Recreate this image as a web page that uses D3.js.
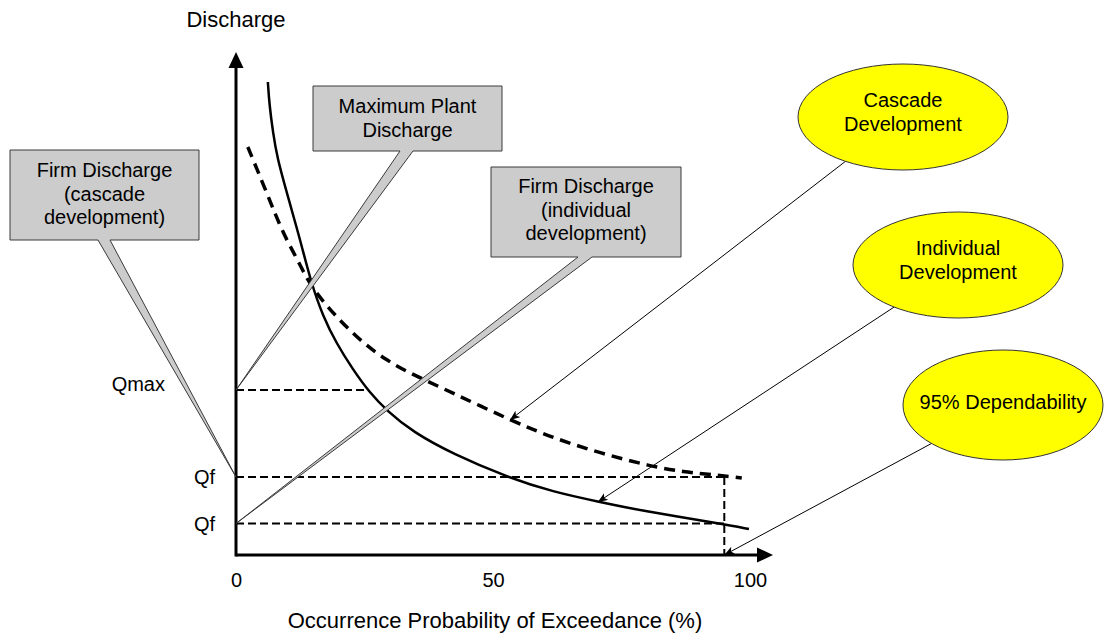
<!DOCTYPE html>
<html><head><meta charset="utf-8">
<script src="https://cdn.jsdelivr.net/npm/d3@7"></script>
<style>
body{margin:0;background:#fff}
svg{display:block;font-family:"Liberation Sans",Arial,Helvetica,sans-serif}
</style>
</head><body>
<svg id="chart" width="1115" height="633"></svg>
<script>
// ---------- data ----------
const xTicks = [0, 50, 100];
const xTitle = "Occurrence Probability of Exceedance (%)";
const yTitle = "Discharge";

// Individual development (solid) flow-duration curve
const individualX = [6.2, 6.5, 7.2, 8.0, 9.9, 12.5, 14.6, 16.9, 19.5, 22.8, 25.9, 29.4, 34.4, 42.2, 52.7, 61.7, 70.8, 78.6, 94.6, 99.8];
const individualY = [94.6, 90.0, 84.5, 79.5, 72.4, 63.0, 54.5, 47.8, 42.4, 37.0, 32.6, 28.8, 24.6, 20.2, 15.6, 12.6, 10.6, 8.9, 6.2, 5.2];

// Cascade development (dashed) flow-duration curve
const cascadeX = [2.3, 6.0, 9.1, 11.7, 13.6, 15.6, 19.5, 24.7, 29.2, 33.7, 42.2, 53.3, 61.7, 70.8, 80.5, 87.0, 93.6, 98.4];
const cascadeY = [81.6, 72.4, 64.4, 59.6, 55.6, 52.4, 47.6, 42.4, 39.0, 36.4, 32.4, 27.0, 23.4, 20.4, 17.8, 16.6, 16.0, 15.4];

// Discharge levels on the y axis
const levelLabels = ["Qmax", "Qf", "Qf"];
const levelValues = [33, 15.6, 6.3];
const levelGuideEnd = [25.3, 95, 95];   // x where each dashed guide stops
const dependability = 95;               // 95% dependability

// Callout boxes (grey) pointing to the y-axis levels
const calloutText = [
  ["Firm Discharge", "(cascade", "development)"],
  ["Maximum Plant", "Discharge"],
  ["Firm Discharge", "(individual", "development)"]
];
const calloutLevel = [1, 0, 2];

// Yellow bubbles pointing at curves
const bubbleText = [["Cascade", "Development"], ["Individual", "Development"], ["95% Dependability"]];
const bubbleTargetX = [53.3, 70.4, 95];
const bubbleTargetY = [27.0, 10.6, 0];

// ---------- layout ----------
const svg = d3.select("#chart");
const x = d3.scaleLinear().domain([0, 100]).range([236, 750]);
const y = d3.scaleLinear().domain([0, 100]).range([555, 55]);

const boxLayout = [
  {x: 10,  y: 150, w: 189, h: 90, bl: 98,  br: 110, b0: 177},
  {x: 313, y: 86,  w: 189, h: 65, bl: 400, br: 413, b0: 113},
  {x: 491, y: 167, w: 190, h: 90, bl: 578, br: 592, b0: 193}
];
const bubbleLayout = [
  {cx: 903,  cy: 117, rx: 105, ry: 53, b0: 107},
  {cx: 958,  cy: 265, rx: 105, ry: 53, b0: 255},
  {cx: 1003, cy: 405, rx: 100, ry: 55, b0: 409}
];

const defs = svg.append("defs");
defs.append("marker").attr("id", "arr")
  .attr("markerUnits", "userSpaceOnUse")
  .attr("markerWidth", 11).attr("markerHeight", 8)
  .attr("refX", 10).attr("refY", 4).attr("orient", "auto")
  .append("path").attr("d", "M0,0 L10,4 L0,8 L2.5,4 Z").attr("fill", "#000");

// ---------- dashed guides ----------
const g = svg.append("g");
levelValues.forEach((v, i) => {
  g.append("line")
    .attr("x1", x(0)).attr("x2", x(levelGuideEnd[i]))
    .attr("y1", y(v)).attr("y2", y(v))
    .attr("stroke", "#000").attr("stroke-width", 2).attr("stroke-dasharray", "8,4");
});
g.append("line")
  .attr("x1", x(dependability)).attr("x2", x(dependability))
  .attr("y1", y(levelValues[1])).attr("y2", y(0))
  .attr("stroke", "#000").attr("stroke-width", 2).attr("stroke-dasharray", "8,4");

// ---------- curves ----------
const line = d3.line().x(d => x(d[0])).y(d => y(d[1])).curve(d3.curveBasis);
g.append("path").datum(individualX.map((v, i) => [v, individualY[i]]))
  .attr("d", line).attr("fill", "none").attr("stroke", "#000").attr("stroke-width", 2.5);
g.append("path").datum(cascadeX.map((v, i) => [v, cascadeY[i]]))
  .attr("d", line).attr("fill", "none").attr("stroke", "#000").attr("stroke-width", 3.5)
  .attr("stroke-dasharray", "11,7");

// ---------- axes ----------
const xTop = y.range()[1] - 3, xEnd = x(100) + 23;
g.append("line").attr("x1", x(0)).attr("x2", x(0)).attr("y1", y(0) + 1.5).attr("y2", xTop + 12)
  .attr("stroke", "#000").attr("stroke-width", 3);
g.append("line").attr("x1", x(0)).attr("x2", xEnd - 12).attr("y1", y(0)).attr("y2", y(0))
  .attr("stroke", "#000").attr("stroke-width", 3);
g.append("path").attr("d", `M${x(0)},${xTop} L${x(0) - 7.5},${xTop + 16} L${x(0) + 7.5},${xTop + 16} Z`).attr("fill", "#000");
g.append("path").attr("d", `M${xEnd},${y(0)} L${xEnd - 16},${y(0) - 7.5} L${xEnd - 16},${y(0) + 7.5} Z`).attr("fill", "#000");

const xAxis = svg.append("g").attr("transform", `translate(0,${y(0)})`)
  .call(d3.axisBottom(x).tickValues(xTicks).tickSize(0).tickPadding(18).tickFormat(d3.format("d")));
xAxis.select(".domain").remove();
xAxis.selectAll("text").attr("font-size", 20).attr("fill", "#000")
  .attr("font-family", "'Liberation Sans',Arial,sans-serif");

// level labels
const labelOffset = [{dx: -71, dy: -6}, {dx: -21, dy: 0}, {dx: -21, dy: 0}];
levelLabels.forEach((t, i) => {
  svg.append("text").attr("x", x(0) + labelOffset[i].dx).attr("y", y(levelValues[i]) + labelOffset[i].dy)
    .attr("dy", "0.35em").attr("text-anchor", "end").attr("font-size", 20).text(t);
});

// titles
svg.append("text").attr("x", x(0)).attr("y", 27).attr("text-anchor", "middle").attr("font-size", 22).text(yTitle);
svg.append("text").attr("x", 495).attr("y", 628).attr("text-anchor", "middle").attr("font-size", 22).text(xTitle);

// ---------- callout boxes ----------
calloutText.forEach((lines, i) => {
  const b = boxLayout[i];
  const tx = x(0), ty = y(levelValues[calloutLevel[i]]);
  const d = `M${b.x},${b.y} H${b.x + b.w} V${b.y + b.h} H${b.br} L${tx},${ty} L${b.bl},${b.y + b.h} H${b.x} Z`;
  svg.append("path").attr("d", d).attr("fill", "#cccccc").attr("stroke", "#3a3a3a").attr("stroke-width", 1)
    .attr("stroke-linejoin", "miter");
  const t = svg.append("text").attr("text-anchor", "middle").attr("font-size", 20).attr("fill", "#000");
  lines.forEach((s, k) => {
    t.append("tspan").attr("x", b.x + b.w / 2).attr("y", b.b0 + k * 23.5).text(s);
  });
});

// ---------- bubbles ----------
bubbleText.forEach((lines, i) => {
  const b = bubbleLayout[i];
  const tx = x(bubbleTargetX[i]), ty = y(bubbleTargetY[i]);
  const dx = tx - b.cx, dy = ty - b.cy;
  const t = 1 / Math.sqrt((dx / b.rx) ** 2 + (dy / b.ry) ** 2);
  svg.append("line").attr("x1", b.cx + dx * t).attr("y1", b.cy + dy * t)
    .attr("x2", tx).attr("y2", ty)
    .attr("stroke", "#000").attr("stroke-width", 1).attr("marker-end", "url(#arr)");
  svg.append("ellipse").attr("cx", b.cx).attr("cy", b.cy).attr("rx", b.rx).attr("ry", b.ry)
    .attr("fill", "#ffff00").attr("stroke", "#333").attr("stroke-width", 1);
  const tt = svg.append("text").attr("text-anchor", "middle").attr("font-size", 20).attr("fill", "#000");
  lines.forEach((s, k) => {
    tt.append("tspan").attr("x", b.cx).attr("y", b.b0 + k * 24).text(s);
  });
});
</script>
</body></html>
